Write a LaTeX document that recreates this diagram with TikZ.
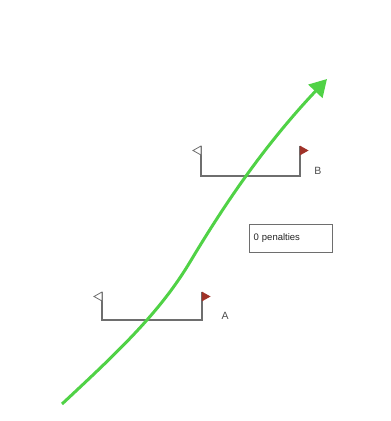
\documentclass[tikz,border=0pt]{standalone}
\usepackage{fontspec}
\setmainfont{Liberation Sans}
\usetikzlibrary{arrows.meta}
\definecolor{polegray}{RGB}{110,110,110}
\definecolor{flagred}{RGB}{160,50,40}
\definecolor{arrowgreen}{RGB}{80,210,70}
\tikzset{
  pole/.style={draw=polegray, line width=1.2pt},
  whiteflag/.style={draw=polegray, fill=white, line width=0.8pt},
  redflag/.style={draw=flagred, fill=flagred, line width=0.5pt},
  gatelabel/.style={text=black!70, font=\fontsize{10.5}{12}\selectfont, inner sep=0pt},
  penbox/.style={draw=polegray, line width=1pt, fill=white, font=\fontsize{9.5}{11}\selectfont, text=black!85, minimum width=83pt, minimum height=28pt, inner xsep=4pt, text width=75pt, align=left},
  route/.style={draw=arrowgreen, line width=3pt, -{Triangle[length=17pt,width=19pt]}},
}
\begin{document}
\begin{tikzpicture}[x=1pt,y=-1pt]
\useasboundingbox (0,0) rectangle (391,421);
% gate B
\coordinate (bl) at (201,176);
\coordinate (br) at (300,176);
\coordinate (blt) at (201,146);
\coordinate (brt) at (300,146);
\draw[pole] (blt) -- (bl) -- (br) -- (brt);
\draw[whiteflag] (blt) -- ++(0,9) -- ++(-8,-4.5) -- cycle;
\draw[redflag] (brt) -- ++(0,9) -- ++(8,-4.5) -- cycle;
\node[gatelabel] (B) at (318,171) {B};
% gate A
\coordinate (al) at (102,320);
\coordinate (ar) at (202,320);
\coordinate (alt) at (102,292);
\coordinate (art) at (202,292);
\draw[pole] (alt) -- (al) -- (ar) -- (art);
\draw[whiteflag] (alt) -- ++(0,9) -- ++(-8,-4.5) -- cycle;
\draw[redflag] (art) -- ++(0,9) -- ++(8,-4.5) -- cycle;
\node[gatelabel] (A) at (225,316) {A};
% penalties box
\node[penbox, anchor=north west] (pen) at (249,224) {0 penalties};
% route
\coordinate (s) at (62,404);
\coordinate (m) at (190,262);
\coordinate (t) at (327,79);
\draw[route] (s) .. controls (120,350) and (160,312) .. (m) .. controls (220,212) and (260,150) .. (t);
\end{tikzpicture}
\end{document}
